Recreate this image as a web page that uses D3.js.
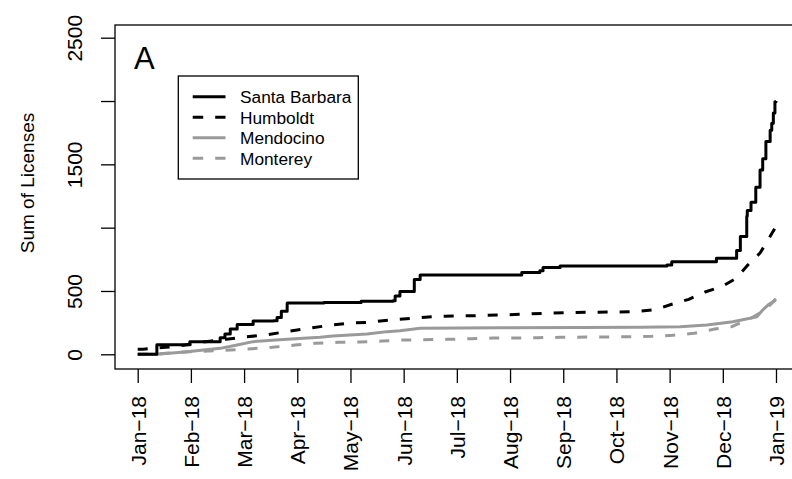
<!DOCTYPE html>
<html>
<head>
<meta charset="utf-8">
<script src="https://cdn.jsdelivr.net/npm/d3@7/dist/d3.min.js"></script>
<style>
  html, body { margin: 0; padding: 0; background: #fff; }
  svg { display: block; font-family: "Liberation Sans", Arial, Helvetica, sans-serif; }
</style>
</head>
<body>
<svg id="chart" width="792" height="479"></svg>
<script>
// ---- Data (x in months since Jan-18, y = cumulative sum of licenses) ----
const monthLabels = ["Jan\u221218","Feb\u221218","Mar\u221218","Apr\u221218","May\u221218","Jun\u221218",
  "Jul\u221218","Aug\u221218","Sep\u221218","Oct\u221218","Nov\u221218","Dec\u221218","Jan\u221219"];
const yTicks = [0, 500, 1000, 1500, 2000, 2500];
const yTickLabels = ["0", "500", "", "1500", "", "2500"];

const santaBarbaraX = [0, 0.33, 0.36, 0.98, 1.55, 1.64, 1.74, 1.87, 2.17, 2.55, 2.62, 2.70, 2.81, 3.5, 4.2, 4.80, 4.84, 4.93, 5.18, 5.20, 5.31, 7.19, 7.22, 7.56, 7.62, 7.94, 9.95, 10.04, 10.88, 11.26, 11.33, 11.45, 11.46, 11.53, 11.62, 11.70, 11.75, 11.81, 11.89, 11.92, 11.95, 11.98, 12];
const santaBarbaraY = [0, 0, 75, 100, 130, 160, 200, 235, 263, 265, 290, 340, 405, 410, 418, 423, 460, 495, 495, 590, 627, 627, 645, 660, 685, 697, 705, 731, 758, 820, 930, 1090, 1135, 1200, 1320, 1455, 1545, 1680, 1770, 1825, 1905, 1995, 2000];

const humboldtX = [0, 0.1, 0.53, 0.89, 1.28, 1.66, 2.04, 2.41, 2.79, 3.18, 3.56, 3.94, 4.35, 4.75, 5.14, 5.54, 5.95, 6.38, 6.78, 7.22, 7.64, 8.05, 8.48, 8.92, 9.31, 9.73, 10.04, 10.36, 10.68, 10.98, 11.25, 11.47, 11.70, 11.85, 12];
const humboldtY = [40, 40, 55, 73, 100, 118, 139, 152, 179, 203, 226, 245, 253, 271, 284, 297, 302, 305, 310, 316, 324, 329, 332, 334, 336, 352, 395, 434, 494, 534, 600, 705, 800, 902, 1010];

const mendocinoX = [0, 0.36, 0.93, 1.55, 1.87, 2.17, 2.81, 3.43, 3.67, 4.31, 4.69, 4.93, 5.31, 6.81, 8.32, 9.44, 10.2, 10.7, 11.19, 11.51, 11.64, 11.75, 11.85, 12];
const mendocinoY = [0, 0, 20, 47, 73, 100, 118, 134, 144, 160, 179, 186, 205, 210, 212, 213, 218, 231, 257, 284, 297, 350, 389, 430];

const montereyX = [0, 0.42, 0.98, 1.55, 2.15, 2.53, 2.96, 3.33, 3.77, 4.18, 4.6, 5.0, 5.83, 6.27, 6.68, 7.11, 7.53, 7.94, 8.79, 9.22, 9.67, 10.06, 10.46, 10.82, 11.17, 11.53, 11.75, 11.89, 12];
const montereyY = [0, 5, 20, 30, 44, 55, 73, 87, 95, 97, 105, 113, 118, 123, 128, 129, 131, 134, 137, 139, 142, 150, 166, 197, 218, 284, 340, 390, 440];

const seriesNames = ["Santa Barbara", "Humboldt", "Mendocino", "Monterey"];

// ---- Layout ----
const svg = d3.select("#chart");
const box = { left: 115, top: 25, bottom: 369, right: 830 };

const x = d3.scaleLinear().domain([0, 12]).range([137.7, 776]);
const y = d3.scaleLinear().domain([0, 2500]).range([354.3, 37.7]);

const series = [
  { name: seriesNames[0], xs: santaBarbaraX, ys: santaBarbaraY, color: "#000", dash: null, curve: d3.curveStepAfter },
  { name: seriesNames[1], xs: humboldtX, ys: humboldtY, color: "#000", dash: "10,12", curve: d3.curveLinear },
  { name: seriesNames[2], xs: mendocinoX, ys: mendocinoY, color: "#9a9a9a", dash: null, curve: d3.curveLinear },
  { name: seriesNames[3], xs: montereyX, ys: montereyY, color: "#9a9a9a", dash: "10,12", curve: d3.curveLinear }
];

// draw order: grey first, then black
const drawOrder = [3, 2, 1, 0];
drawOrder.forEach(i => {
  const s = series[i];
  const pts = s.xs.map((v, k) => [v, s.ys[k]]);
  const line = d3.line().x(d => x(d[0])).y(d => y(d[1])).curve(s.curve);
  svg.append("path")
    .attr("d", line(pts))
    .attr("fill", "none")
    .attr("stroke", s.color)
    .attr("stroke-width", 3)
    .attr("stroke-linejoin", "round")
    .attr("stroke-dasharray", s.dash);
});

// plot box
svg.append("rect")
  .attr("x", box.left).attr("y", box.top)
  .attr("width", box.right - box.left).attr("height", box.bottom - box.top)
  .attr("fill", "none").attr("stroke", "#000").attr("stroke-width", 1.3);

// y axis
const yAxis = d3.axisLeft(y).tickValues(yTicks).tickSize(14).tickFormat((d, i) => yTickLabels[i]);
const gy = svg.append("g").attr("transform", `translate(${box.left},0)`).call(yAxis);
gy.select(".domain").remove();
gy.selectAll(".tick line").attr("stroke", "#000").attr("stroke-width", 1.3);
gy.selectAll(".tick text")
  .attr("x", 0).attr("y", 0).attr("dy", null)
  .attr("transform", "translate(-33.5,0) rotate(-90)")
  .attr("text-anchor", "middle")
  .attr("font-size", 21)
  .attr("font-family", "Liberation Sans, Arial, sans-serif")
  .attr("fill", "#000");

// x axis
const xAxis = d3.axisBottom(x).tickValues(d3.range(13)).tickSize(14).tickFormat(i => monthLabels[i]);
const gx = svg.append("g").attr("transform", `translate(0,${box.bottom})`).call(xAxis);
gx.select(".domain").remove();
gx.selectAll(".tick line").attr("stroke", "#000").attr("stroke-width", 1.3);
gx.selectAll(".tick text")
  .attr("x", 0).attr("y", 0).attr("dy", null)
  .attr("transform", "translate(7.5,27) rotate(-90)")
  .attr("text-anchor", "end")
  .attr("font-size", 21)
  .attr("font-family", "Liberation Sans, Arial, sans-serif")
  .attr("fill", "#000");

// y axis title
svg.append("text")
  .attr("transform", "translate(33.5,183) rotate(-90)")
  .attr("text-anchor", "middle")
  .attr("font-size", 19)
  .attr("fill", "#000")
  .text("Sum of Licenses");

// panel letter
svg.append("text")
  .attr("x", 134).attr("y", 68.5)
  .attr("font-size", 31)
  .attr("fill", "#000")
  .text("A");

// legend
const lg = svg.append("g");
lg.append("rect")
  .attr("x", 178.3).attr("y", 76).attr("width", 180).attr("height", 103)
  .attr("fill", "#fff").attr("stroke", "#000").attr("stroke-width", 1.3);
const rowY = [96.7, 117.2, 137.7, 158.2];
series.forEach((s, i) => {
  lg.append("line")
    .attr("x1", 192.7).attr("x2", 225.5)
    .attr("y1", rowY[i]).attr("y2", rowY[i])
    .attr("stroke", s.color).attr("stroke-width", 3)
    .attr("stroke-dasharray", s.dash ? "10.5,12" : null);
  lg.append("text")
    .attr("x", 240).attr("y", rowY[i] + 6.3)
    .attr("font-size", 17.3)
    .attr("fill", "#000")
    .text(s.name);
});
</script>
</body>
</html>
